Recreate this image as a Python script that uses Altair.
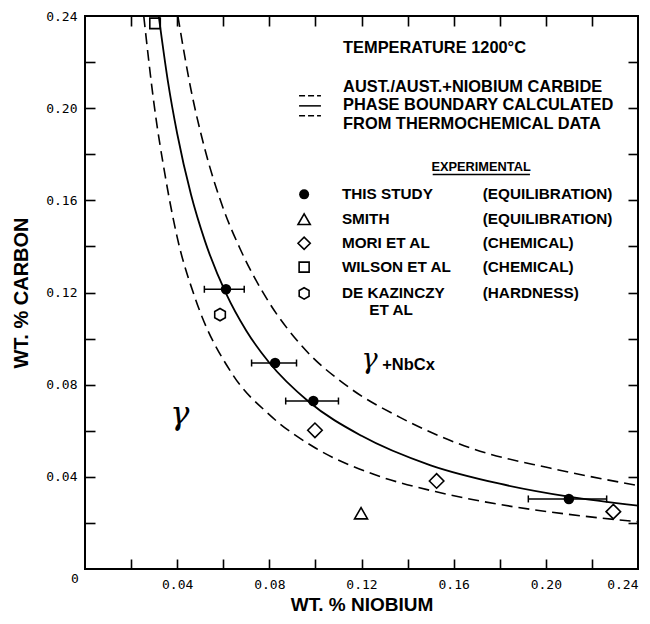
import altair as alt
import pandas as pd

# ---------------- data ----------------
# calculated phase boundary (solid) and its two dashed bounds
solid_x = [0.0320, 0.0360, 0.0400, 0.0460, 0.0520, 0.0612, 0.0700, 0.0800, 0.0970, 0.1200, 0.1500, 0.1800, 0.2100, 0.2400]
solid_y = [0.2400, 0.2115, 0.1890, 0.1625, 0.1425, 0.1196, 0.1034, 0.0895, 0.0727, 0.0578, 0.0450, 0.0370, 0.0314, 0.0275]
lower_x = [0.0255, 0.0300, 0.0350, 0.0400, 0.0480, 0.0640, 0.0800, 0.1000, 0.1250, 0.1520, 0.1800, 0.2100, 0.2400]
lower_y = [0.2400, 0.2015, 0.1695, 0.1440, 0.1170, 0.0845, 0.0670, 0.0525, 0.0412, 0.0336, 0.0280, 0.0237, 0.0205]
upper_x = [0.0403, 0.0460, 0.0520, 0.0600, 0.0673, 0.0800, 0.0933, 0.1150, 0.1367, 0.1685, 0.2018, 0.2400]
upper_y = [0.2400, 0.2080, 0.1823, 0.1565, 0.1390, 0.1155, 0.0977, 0.0785, 0.0658, 0.0521, 0.0438, 0.0362]

# experimental points
study_x = [0.0612, 0.0825, 0.0991, 0.2100]
study_y = [0.1214, 0.0894, 0.0729, 0.0304]
study_lo = [0.0518, 0.0723, 0.0871, 0.1924]
study_hi = [0.0691, 0.0918, 0.1100, 0.2264]
smith_x = [0.1198]
smith_y = [0.0242]
mori_x = [0.0998, 0.1526, 0.2293]
mori_y = [0.0602, 0.0382, 0.0249]
wilson_x = [0.0304]
wilson_y = [0.2368]
dek_x = [0.0586]
dek_y = [0.1104]

# axis ticks / labels
tick_vals = [0.02, 0.04, 0.06, 0.08, 0.10, 0.12, 0.14, 0.16, 0.18, 0.20, 0.22]
label_vals = [0.04, 0.08, 0.12, 0.16, 0.20, 0.24]

# annotation texts (anchored in data units)
info_text = ["TEMPERATURE 1200\u00b0C", "AUST./AUST.+NIOBIUM CARBIDE",
             "PHASE BOUNDARY CALCULATED", "FROM THERMOCHEMICAL DATA"]
info_x = [0.1120, 0.1120, 0.1120, 0.1120]
info_y = [0.2262, 0.2090, 0.2012, 0.1931]
key_names = ["THIS STUDY", "SMITH", "MORI ET AL", "WILSON ET AL", "DE KAZINCZY", "ET AL"]
key_names_x = [0.1115, 0.1115, 0.1115, 0.1115, 0.1115, 0.1234]
key_names_y = [0.1626, 0.1518, 0.1414, 0.1310, 0.1196, 0.1122]
key_methods = ["(EQUILIBRATION)", "(EQUILIBRATION)", "(CHEMICAL)", "(CHEMICAL)", "(HARDNESS)"]
key_methods_y = [0.1626, 0.1518, 0.1414, 0.1310, 0.1196]
key_sym_x = 0.0951
key_line_x = [0.0929, 0.1024]
key_line_y = [0.2054, 0.2010, 0.1967]

BLACK = "black"
SANS = "Liberation Sans"

xs = alt.Scale(domain=[0, 0.24], nice=False, zero=False)
ys = alt.Scale(domain=[0, 0.24], nice=False, zero=False)


def ax_tick(orient):
    return alt.Axis(orient=orient, values=tick_vals, labels=False, domain=False, grid=False,
                    ticks=True, tickSize=10, tickWidth=1.6, tickColor=BLACK, offset=-10, title=None)


# ---------------- curves ----------------
solid_df = pd.DataFrame({"x": solid_x, "y": solid_y})
dash_df = pd.concat([
    pd.DataFrame({"x": lower_x, "y": lower_y, "curve": "lower"}),
    pd.DataFrame({"x": upper_x, "y": upper_y, "curve": "upper"}),
])

solid = alt.Chart(solid_df).mark_line(color=BLACK, strokeWidth=1.8, clip=True, interpolate="monotone").encode(
    x=alt.X("x:Q", scale=xs, title="WT. % NIOBIUM",
            axis=alt.Axis(orient="bottom", values=label_vals, format=".2f", domain=False, ticks=False,
                          grid=False, labelFont="DejaVu Sans Mono", labelFontSize=13, labelColor=BLACK,
                          labelPadding=9, titleFont=SANS, titleFontSize=19, titleFontWeight="bold",
                          titleColor=BLACK, titlePadding=4)),
    y=alt.Y("y:Q", scale=ys, title="WT. % CARBON",
            axis=alt.Axis(orient="left", values=label_vals, format=".2f", domain=False, ticks=False,
                          grid=False, labelFont="DejaVu Sans Mono", labelFontSize=13, labelColor=BLACK,
                          labelPadding=8, titleFont=SANS, titleFontSize=20, titleFontWeight="bold",
                          titleColor=BLACK, titlePadding=14)),
)

dashed = alt.Chart(dash_df).mark_line(color=BLACK, strokeWidth=1.6, strokeDash=[11, 6], clip=True,
                                      interpolate="monotone").encode(
    x=alt.X("x:Q", scale=xs, axis=ax_tick("bottom")),
    y=alt.Y("y:Q", scale=ys, axis=ax_tick("left")),
    detail="curve:N",
)

# ---------------- experimental points ----------------
study_df = pd.DataFrame({"x": study_x, "y": study_y, "lo": study_lo, "hi": study_hi})
caps_df = pd.DataFrame({"x": study_lo + study_hi, "y": study_y + study_y})

err = alt.Chart(study_df).mark_rule(color=BLACK, strokeWidth=1.5).encode(
    x=alt.X("lo:Q", scale=xs, axis=None), x2="hi:Q", y=alt.Y("y:Q", scale=ys, axis=None))
caps = alt.Chart(caps_df).mark_point(shape="M0,-1L0,1", size=49, filled=False, color=BLACK,
                                     strokeWidth=1.5, opacity=1).encode(
    x=alt.X("x:Q", scale=xs, axis=None), y=alt.Y("y:Q", scale=ys, axis=None))
study = alt.Chart(study_df).mark_point(shape="circle", size=110, filled=True, color=BLACK, opacity=1).encode(
    x=alt.X("x:Q", scale=xs, axis=ax_tick("top")), y=alt.Y("y:Q", scale=ys, axis=ax_tick("right")))

HEX = "M0,-1L0.866,-0.5L0.866,0.5L0,1L-0.866,0.5L-0.866,-0.5Z"


def open_pts(xv, yv, shape, size):
    df = pd.DataFrame({"x": xv, "y": yv})
    return alt.Chart(df).mark_point(shape=shape, size=size, filled=False, color=BLACK,
                                    strokeWidth=1.6, opacity=1).encode(
        x=alt.X("x:Q", scale=xs, axis=None), y=alt.Y("y:Q", scale=ys, axis=None))


smith = open_pts(smith_x, smith_y, "triangle-up", 170)
mori = open_pts(mori_x, mori_y, "diamond", 210)
wilson = open_pts(wilson_x, wilson_y, "square", 110)
dek = open_pts(dek_x, dek_y, HEX, 150)

# ---------------- key (drawn legend) ----------------
key_study = alt.Chart(pd.DataFrame({"x": [key_sym_x], "y": [key_names_y[0]]})).mark_point(
    shape="circle", size=100, filled=True, color=BLACK, opacity=1).encode(
    x=alt.X("x:Q", scale=xs, axis=None), y=alt.Y("y:Q", scale=ys, axis=None))
key_smith = open_pts([key_sym_x], [key_names_y[1]], "triangle-up", 150)
key_mori = open_pts([key_sym_x], [key_names_y[2]], "diamond", 150)
key_wilson = open_pts([key_sym_x], [key_names_y[3]], "square", 100)
key_dek = open_pts([key_sym_x], [key_names_y[4]], HEX, 130)

kl_df = pd.DataFrame({"x": [key_line_x[0]] * 3, "x2": [key_line_x[1]] * 3, "y": key_line_y,
                      "kind": ["dash", "solid", "dash"]})
key_dash = alt.Chart(kl_df[kl_df.kind == "dash"]).mark_rule(color=BLACK, strokeWidth=1.5,
                                                            strokeDash=[6, 3]).encode(
    x=alt.X("x:Q", scale=xs, axis=None), x2="x2:Q", y=alt.Y("y:Q", scale=ys, axis=None))
key_solid = alt.Chart(kl_df[kl_df.kind == "solid"]).mark_rule(color=BLACK, strokeWidth=1.5).encode(
    x=alt.X("x:Q", scale=xs, axis=None), x2="x2:Q", y=alt.Y("y:Q", scale=ys, axis=None))


def texts(tx, xv, yv, align="left", size=16, weight="bold", font=SANS, style="normal",
          baseline="middle"):
    df = pd.DataFrame({"t": tx, "x": xv, "y": yv})
    return alt.Chart(df).mark_text(align=align, baseline=baseline, font=font, fontSize=size,
                                   fontWeight=weight, fontStyle=style, color=BLACK).encode(
        x=alt.X("x:Q", scale=xs, axis=None), y=alt.Y("y:Q", scale=ys, axis=None), text="t:N")


info = texts(info_text, info_x, info_y, size=16.4)
exp_head = texts(["EXPERIMENTAL"], [0.1719], [0.1746], align="center", size=12.8)
underline = alt.Chart(pd.DataFrame({"x": [0.1509], "x2": [0.1931], "y": [0.1712]})).mark_rule(
    color=BLACK, strokeWidth=1.5).encode(
    x=alt.X("x:Q", scale=xs, axis=None), x2="x2:Q", y=alt.Y("y:Q", scale=ys, axis=None))
names = texts(key_names, key_names_x, key_names_y, size=15.3)
methods = texts(key_methods, [0.1726] * 5, key_methods_y, size=15.3)

gamma_l = texts(["\u03b3"], [0.0412], [0.0674], align="center", size=32, weight="normal",
                font="DejaVu Serif", style="italic")
gamma_r = texts(["\u03b3"], [0.1200], [0.0872], size=27, weight="normal", font="DejaVu Serif",
                style="italic", baseline="alphabetic")
nbc = texts(["+NbCx"], [0.1290], [0.0865], size=16.5, baseline="alphabetic")

origin = alt.Chart(pd.DataFrame({"x": [0.0], "y": [0.0], "t": ["0"]})).mark_text(
    font="DejaVu Sans Mono", fontSize=13, color=BLACK, dx=-10, dy=10).encode(
    x=alt.X("x:Q", scale=xs, axis=None), y=alt.Y("y:Q", scale=ys, axis=None), text="t:N")

chart = alt.layer(
    solid, dashed, err, caps, study, smith, mori, wilson, dek,
    key_dash, key_solid, key_study, key_smith, key_mori, key_wilson, key_dek,
    info, exp_head, underline, names, methods, gamma_l, gamma_r, nbc, origin,
).resolve_axis(x="independent", y="independent").properties(
    width=553, height=553,
    autosize=alt.AutoSizeParams(type="none"),
    padding={"left": 77, "top": 8, "right": 2, "bottom": 46},
    background="white",
).configure_view(stroke=BLACK, strokeWidth=2)

chart.save("out.html", embed_options={"renderer": "svg", "actions": False})
